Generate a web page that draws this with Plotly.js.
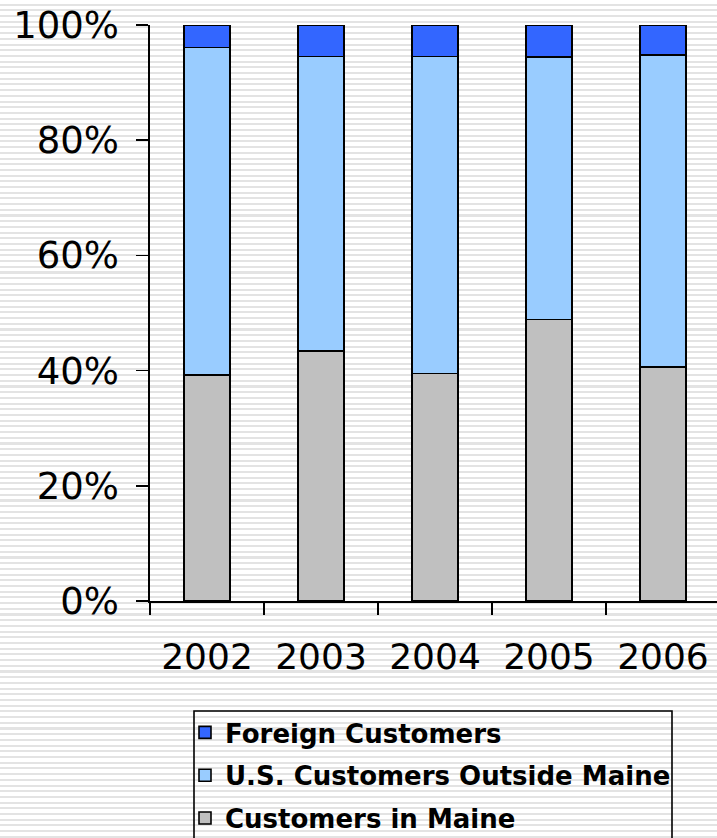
<!DOCTYPE html>
<html>
<head>
<meta charset="utf-8">
<script src="https://cdn.plot.ly/plotly-3.0.1.min.js"></script>
<style>
  html, body { margin: 0; padding: 0; }
  body {
    width: 717px; height: 838px; overflow: hidden;
    background: repeating-linear-gradient(to bottom, #ffffff 0px, #ffffff 3.6px, #e3e3e3 3.6px, #e3e3e3 5.7px);
  }
  #chart { width: 717px; height: 838px; }
</style>
</head>
<body>
<div id="chart"></div>
<script>
const years = ['2002', '2003', '2004', '2005', '2006'];
const maine = [39.2, 43.4, 39.5, 48.9, 40.6];
const usOutside = [56.9, 51.1, 55.0, 45.5, 54.2];
const foreign = [3.9, 5.5, 5.5, 5.6, 5.2];
const seriesNames = ['Customers in Maine', 'U.S. Customers Outside Maine', 'Foreign Customers'];
const yTicks = [0, 20, 40, 60, 80, 100];

const colors = ['#C0C0C0', '#99CCFF', '#3366FF'];
const values = [maine, usOutside, foreign];

const traces = values.map((v, i) => ({
  type: 'bar',
  x: years,
  y: v,
  name: seriesNames[i],
  legendgroup: 'g' + i,
  legendrank: 10 - i,
  width: 0.4,
  marker: { color: colors[i], line: { color: '#000000', width: 1.6 } },
  hoverinfo: 'none'
}));

const W = 717, H = 838;
const M = { l: 150, r: 0, t: 25, b: 237 };
const plotW = W - M.l - M.r;
const plotH = H - M.t - M.b;
const px2x = p => (p - M.l) / plotW;
const px2y = p => (H - M.b - p) / plotH;

const layout = {
  width: W,
  height: H,
  barmode: 'stack',
  paper_bgcolor: 'rgba(0,0,0,0)',
  plot_bgcolor: 'rgba(0,0,0,0)',
  margin: { l: M.l, r: M.r, t: M.t, b: M.b, pad: 0, autoexpand: false },
  font: { family: 'DejaVu Sans', color: '#000000' },
  xaxis: {
    type: 'category',
    range: [-0.5, 4.474],
    showline: true,
    linecolor: '#000000',
    linewidth: 1.6,
    ticks: 'outside',
    tickson: 'boundaries',
    ticklen: 12,
    tickwidth: 1.6,
    tickcolor: '#000000',
    showgrid: false,
    zeroline: false,
    tickfont: { family: 'DejaVu Sans', size: 36, color: '#000000' },
    ticklabelstandoff: 23
  },
  yaxis: {
    range: [0, 100],
    tickvals: yTicks,
    ticktext: yTicks.map(t => t + '%'),
    showline: true,
    linecolor: '#000000',
    linewidth: 1.6,
    ticks: 'outside',
    ticklen: 12,
    tickwidth: 1.6,
    tickcolor: '#000000',
    showgrid: false,
    zeroline: false,
    tickfont: { family: 'DejaVu Sans', size: 37, color: '#000000' },
    ticklabelstandoff: 10
  },
  showlegend: true,
  legend: {
    traceorder: 'grouped',
    tracegroupgap: 6,
    xref: 'paper',
    xanchor: 'left',
    x: px2x(185),
    yref: 'paper',
    yanchor: 'top',
    y: px2y(709),
    bgcolor: 'rgba(0,0,0,0)',
    borderwidth: 0,
    font: { family: 'DejaVu Sans', size: 26, weight: 'bold', color: '#000000' },
    itemclick: false,
    itemdoubleclick: false
  },
  shapes: [{
    type: 'rect',
    xref: 'paper', yref: 'paper',
    x0: px2x(194), x1: px2x(672),
    y0: px2y(711), y1: px2y(860),
    line: { color: '#000000', width: 1.6 },
    fillcolor: 'rgba(0,0,0,0)',
    layer: 'above'
  }]
};

Plotly.newPlot('chart', traces, layout, { staticPlot: true, displayModeBar: false });
</script>
</body>
</html>
